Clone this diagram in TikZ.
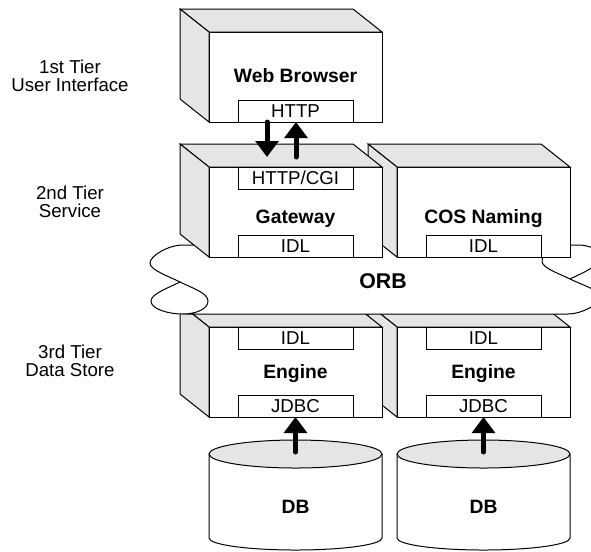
\documentclass[tikz,border=0pt]{standalone}
\usepackage{fontspec}
\setmainfont{Liberation Sans}
\usetikzlibrary{arrows.meta}

\definecolor{facegray}{RGB}{229,229,229}

\tikzset{
  front/.style={draw, fill=white, inner sep=0pt, outer sep=0pt, minimum width=129.75pt, minimum height=67.5pt},
  port/.style={draw, fill=white, inner sep=0pt, outer sep=0pt, minimum width=86.25pt, minimum height=16.5pt,
    text height=10pt, text depth=0pt, font=\fontsize{14}{14}\selectfont},
  face/.style={draw, fill=facegray},
  title/.style={inner sep=0pt, text height=10.4pt, text depth=0pt, font=\fontsize{14.5}{15}\selectfont\bfseries},
  tier/.style={inner sep=0pt, align=center, font=\fontsize{14}{13.5}\selectfont},
  flow/.style={line width=3.75pt, line cap=round, -{Triangle[width=17pt,length=12pt]}},
}

% top and left side of a block, hung on its front face node
\newcommand{\boxfaces}[1]{%
  \filldraw[face] (#1.north west) -- ++(-29,-23) -- ++(173,0) -- (#1.north east) -- cycle;
  \filldraw[face] (#1.north west) -- ++(-29,-23) -- ++(0,90) -- (#1.south west) -- cycle;
}

\begin{document}
\begin{tikzpicture}[x=0.75pt,y=0.75pt,yscale=-1,xscale=1,line width=0.75pt]
\useasboundingbox (0,0) rectangle (591,551);
\clip (0,0) rectangle (591,551);

% tiers
\node[tier] (tier1) at (70,76) {1st Tier\\User Interface};
\node[tier] (tier2) at (70,201.5) {2nd Tier\\Service};
\node[tier] (tier3) at (70,360.5) {3rd Tier\\Data Store};

% browser
\node[front] (wb) at (295.5,77) {};
\boxfaces{wb}
\node[title] (wbname) at (295.5,76) {Web Browser};
\node[port, anchor=south] (wbhttp) at (wb.south) {HTTP};

% engines, right one first
\node[front] (eng2) at (483.5,372) {};
\boxfaces{eng2}
\node[title] (eng2name) at (483.5,372) {Engine};
\node[port, anchor=north] (eng2idl) at (eng2.north) {IDL};
\node[port, anchor=south] (eng2jdbc) at (eng2.south) {JDBC};

\node[front] (eng1) at (295.5,372) {};
\boxfaces{eng1}
\node[title] (eng1name) at (295.5,372) {Engine};
\node[port, anchor=north] (eng1idl) at (eng1.north) {IDL};
\node[port, anchor=south] (eng1jdbc) at (eng1.south) {JDBC};

% ORB band
\fill[white] (183,245) -- (578,245) .. controls (590,245) and (600,250) .. (600,258)
  .. controls (600,266) and (582,273) .. (570,279) .. controls (582,285) and (600,290) .. (600,297)
  .. controls (600,304) and (582,314) .. (568,314) -- (183,314)
  .. controls (168,314) and (151,309) .. (151,301) .. controls (151,294) and (168,288) .. (180,282)
  .. controls (168,276) and (150,270) .. (150,263) .. controls (150,256) and (168,245) .. (183,245) -- cycle;
\draw (578,245) -- (183,245) .. controls (168,245) and (150,256) .. (150,263)
  .. controls (150,270) and (168,276) .. (180,282) .. controls (192,288) and (208,293) .. (208,301)
  .. controls (208,309) and (196,314) .. (183,314) -- (568,314)
  .. controls (582,314) and (600,304) .. (600,297) .. controls (600,290) and (582,285) .. (570,279)
  .. controls (558,273) and (542,268) .. (542,261) .. controls (542,254) and (552,246) .. (565,245);
\draw (180,282) .. controls (168,288) and (151,294) .. (151,301) .. controls (151,309) and (168,314) .. (183,314);
\draw (570,279) .. controls (582,273) and (600,266) .. (600,258) .. controls (600,250) and (590,245) .. (578,245);
\node[title, font=\fontsize{16}{16}\selectfont\bfseries] (orb) at (383,282) {ORB};

% naming service and gateway
\node[front] (cos) at (483.5,212) {};
\boxfaces{cos}
\node[title] (cosname) at (483.5,217) {COS Naming};
\node[port, anchor=south] (cosidl) at (cos.south) {IDL};

\node[front] (gw) at (295.5,212) {};
\boxfaces{gw}
\node[title] (gwname) at (295.5,217) {Gateway};
\node[port, anchor=north] (gwhttp) at (gw.north) {HTTP/CGI};
\node[port, anchor=south] (gwidl) at (gw.south) {IDL};

% request / reply
\coordinate (req) at (267,157);
\coordinate (rep) at (296,157);
\draw[flow] (req |- wbhttp.south) -- (req);
\draw[flow] (rep) -- (rep |- wbhttp.south);

% databases
\filldraw[fill=white] (209,454) -- (209,538) arc[start angle=180, end angle=0, x radius=86.5, y radius=12] -- (382,454);
\filldraw[face] (295.5,454) ellipse[x radius=86.5, y radius=14];
\node[title] (db1) at (295.5,507) {DB};
\filldraw[fill=white] (397,454) -- (397,538) arc[start angle=180, end angle=0, x radius=86.5, y radius=12] -- (570,454);
\filldraw[face] (483.5,454) ellipse[x radius=86.5, y radius=14];
\node[title] (db2) at (483.5,507) {DB};

\coordinate (db1top) at (295.5,452);
\coordinate (db2top) at (483.5,452);
\draw[flow] (db1top) -- (eng1jdbc.south);
\draw[flow] (db2top) -- (eng2jdbc.south);
\end{tikzpicture}
\end{document}
